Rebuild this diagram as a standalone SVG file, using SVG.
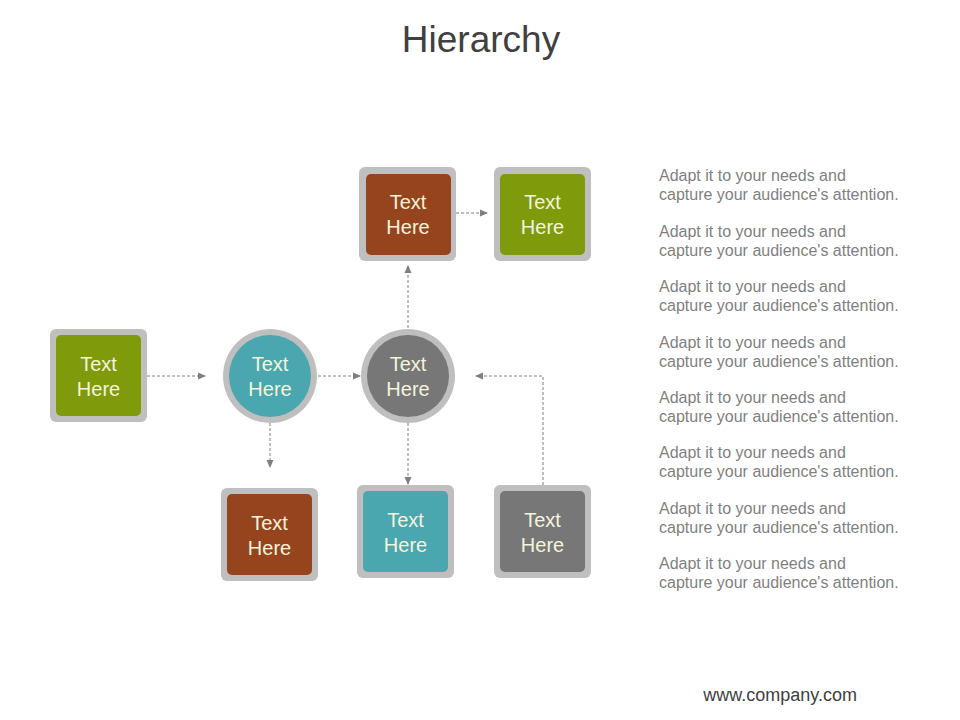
<svg xmlns="http://www.w3.org/2000/svg" width="960" height="720" viewBox="0 0 960 720">
<style>
.o{fill:#bfbfbf}
.t{font-family:"Liberation Sans",Arial,sans-serif;font-size:20px;fill:#f4f4dc;text-anchor:middle}
.c{fill:none;stroke:#7f7f7f;stroke-width:1;stroke-dasharray:3,2}
.d{font-family:"Liberation Sans",Arial,sans-serif;font-size:16px;fill:#7f7f7f}
</style>
<defs><marker id="a" markerWidth="8" markerHeight="8" refX="7" refY="4" orient="auto" markerUnits="userSpaceOnUse"><path d="M0,0.5 L8,4 L0,7.5 Z" fill="#7f7f7f"/></marker></defs>
<rect width="960" height="720" fill="#fff"/>
<text x="481" y="52" font-family="Liberation Sans,Arial,sans-serif" font-size="37" fill="#404040" text-anchor="middle">Hierarchy</text>
<g id="connectors">
<path class="c" d="M147,376 H205" marker-end="url(#a)"/>
<path class="c" d="M318,376 H360" marker-end="url(#a)"/>
<path class="c" d="M408,328 V266" marker-end="url(#a)"/>
<path class="c" d="M456,213 H487" marker-end="url(#a)"/>
<path class="c" d="M270,423 V467" marker-end="url(#a)"/>
<path class="c" d="M408,423 V484" marker-end="url(#a)"/>
<path class="c" d="M543,485 V376 H476" marker-end="url(#a)"/>
</g>
<g id="n1"><rect class="o" x="50" y="329" width="97" height="93" rx="6"/><rect x="56" y="335" width="85" height="81" rx="5" fill="#7f9a0b"/><text class="t" x="98.5" y="371">Text</text><text class="t" x="98.5" y="396">Here</text></g>
<g id="n2"><circle class="o" cx="270" cy="376" r="47"/><circle cx="270" cy="376" r="41" fill="#4aa7b0"/><text class="t" x="270" y="371">Text</text><text class="t" x="270" y="396">Here</text></g>
<g id="n3"><circle class="o" cx="408" cy="376" r="47"/><circle cx="408" cy="376" r="41" fill="#777777"/><text class="t" x="408" y="371">Text</text><text class="t" x="408" y="396">Here</text></g>
<g id="n4"><rect class="o" x="359" y="167" width="97" height="94" rx="6"/><rect x="366" y="174" width="85" height="81" rx="5" fill="#96441e"/><text class="t" x="408" y="209">Text</text><text class="t" x="408" y="234">Here</text></g>
<g id="n5"><rect class="o" x="494" y="167" width="97" height="94" rx="6"/><rect x="500" y="174" width="85" height="81" rx="5" fill="#7f9a0b"/><text class="t" x="542.5" y="209">Text</text><text class="t" x="542.5" y="234">Here</text></g>
<g id="n6"><rect class="o" x="221" y="488" width="97" height="93" rx="6"/><rect x="227" y="494" width="85" height="81" rx="5" fill="#96441e"/><text class="t" x="269.5" y="530">Text</text><text class="t" x="269.5" y="555">Here</text></g>
<g id="n7"><rect class="o" x="357" y="485" width="97" height="93" rx="6"/><rect x="363" y="491" width="85" height="81" rx="5" fill="#4aa7b0"/><text class="t" x="405.5" y="527">Text</text><text class="t" x="405.5" y="552">Here</text></g>
<g id="n8"><rect class="o" x="494" y="485" width="97" height="93" rx="6"/><rect x="500" y="491" width="85" height="81" rx="5" fill="#777777"/><text class="t" x="542.5" y="527">Text</text><text class="t" x="542.5" y="552">Here</text></g>
<g id="notes" class="d">
<text x="659" y="181">Adapt it to your needs and</text><text x="659" y="200">capture your audience's attention.</text>
<text x="659" y="237">Adapt it to your needs and</text><text x="659" y="256">capture your audience's attention.</text>
<text x="659" y="292">Adapt it to your needs and</text><text x="659" y="311">capture your audience's attention.</text>
<text x="659" y="348">Adapt it to your needs and</text><text x="659" y="367">capture your audience's attention.</text>
<text x="659" y="403">Adapt it to your needs and</text><text x="659" y="422">capture your audience's attention.</text>
<text x="659" y="458">Adapt it to your needs and</text><text x="659" y="477">capture your audience's attention.</text>
<text x="659" y="514">Adapt it to your needs and</text><text x="659" y="533">capture your audience's attention.</text>
<text x="659" y="569">Adapt it to your needs and</text><text x="659" y="588">capture your audience's attention.</text>
</g>
<text x="857" y="701" font-family="Liberation Sans,Arial,sans-serif" font-size="18" fill="#404040" text-anchor="end">www.company.com</text>
</svg>
